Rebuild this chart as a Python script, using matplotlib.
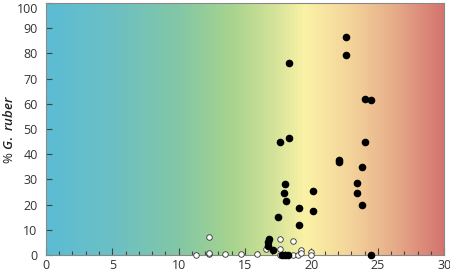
import numpy as np
import matplotlib
matplotlib.use('Agg')
import matplotlib.pyplot as plt
from matplotlib.colors import LinearSegmentedColormap
from matplotlib.ticker import MultipleLocator

plt.rcParams['font.family'] = ['Open Sans', 'DejaVu Sans']
plt.rcParams['mathtext.fontset'] = 'custom'
plt.rcParams['mathtext.rm'] = 'Open Sans:semibold'
plt.rcParams['mathtext.it'] = 'Open Sans:italic:semibold'

# filled symbols
filled_x = [18.3, 17.6, 18.3, 18.0, 17.95, 18.05, 17.5, 19.1, 19.1, 22.6, 22.6, 24.0,
            24.5, 24.0, 22.1, 22.1, 23.8, 23.4, 23.4, 23.8, 20.1, 20.1, 24.5, 16.8,
            16.7, 16.7, 17.1, 17.8, 18.0, 18.2]
filled_y = [76.4, 44.8, 46.4, 28.2, 24.6, 21.4, 15.1, 18.7, 11.9, 86.4, 79.2, 61.9,
            61.5, 44.9, 37.7, 36.8, 34.8, 28.5, 24.7, 19.9, 25.4, 17.5, 0.0, 6.5,
            5.0, 3.5, 2.0, 0.0, 0.0, 0.0]

# open symbols
open_x = [11.3, 12.3, 12.3, 12.3, 13.5, 14.7, 15.9, 16.6, 17.6, 17.6, 17.6, 18.6,
          18.6, 19.0, 19.2, 19.2, 20.0, 20.0]
open_y = [0.0, 7.3, 0.5, 1.0, 0.5, 0.3, 0.3, 2.6, 6.3, 2.6, 0.0, 5.7,
          0.0, 0.0, 2.0, 0.8, 1.2, 0.0]

y_ticks = list(range(0, 101, 10))

# background temperature gradient
grad_colors = [(0.0, '#5bbcd4'), (0.17, '#6cc0c4'), (0.33, '#82c7a6'),
               (0.47, '#a9d48e'), (0.57, '#d3e299'), (0.65, '#fbf2a6'),
               (0.77, '#f3d29a'), (0.87, '#e7ae8a'), (1.0, '#d4736e')]
cmap = LinearSegmentedColormap.from_list('temp', grad_colors)

fig = plt.figure(figsize=(4.5, 2.74), dpi=100)
ax = fig.add_axes([0.102, 0.069, 0.885, 0.92])

ax.imshow(np.linspace(0, 1, 256)[None, :], cmap=cmap, aspect='auto',
          extent=[0, 30, 0, 100], zorder=0)

ax.scatter(open_x, open_y, s=16, facecolor='white', edgecolor='#333333',
           linewidth=0.6, zorder=3, clip_on=False)
ax.scatter(filled_x, filled_y, s=20, color='black', zorder=4, clip_on=False)

ax.set_xlim(0, 30)
ax.set_ylim(0, 100)
ax.xaxis.set_major_locator(MultipleLocator(5))
ax.xaxis.set_minor_locator(MultipleLocator(1))
# the top label is drawn separately so it sits just under the frame
ax.set_yticks(y_ticks, [str(v) for v in y_ticks[:-1]] + [''])
ax.text(-0.02, 1.0, str(y_ticks[-1]), transform=ax.transAxes, ha='right',
        va='top', fontsize=9, color='#333333')

ax.tick_params(axis='x', which='major', direction='in', length=5, width=0.8,
               color='#444444', labelsize=9, labelcolor='#333333', pad=3)
ax.tick_params(axis='x', which='minor', direction='in', length=3, width=0.8,
               color='#444444')
ax.tick_params(axis='y', which='major', direction='in', length=4, width=0.8,
               color='#444444', labelsize=9, labelcolor='#333333', pad=6)

for side in ['top', 'right', 'left', 'bottom']:
    ax.spines[side].set_color('#888888')
    ax.spines[side].set_linewidth(0.8)

ax.set_ylabel('% $\\it{G.\\ ruber}$', fontsize=9.5, color='#222222')
ax.yaxis.set_label_coords(-0.075, 0.5)

fig.savefig('out.png', dpi=100)
